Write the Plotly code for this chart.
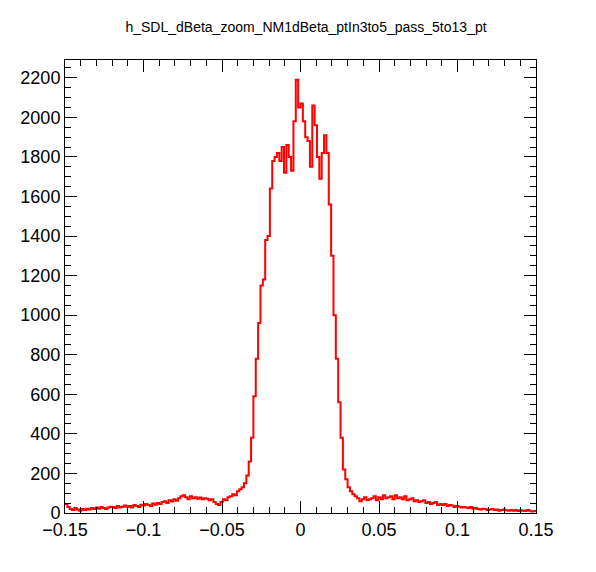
import plotly.graph_objects as go

title = 'h_SDL_dBeta_zoom_NM1dBeta_ptIn3to5_pass_5to13_pt'
xmin, xmax = -0.15, 0.15
counts = [45,30,20,15,25,18,12,20,15,22,
          18,25,20,28,22,30,25,20,28,32,
          30,25,35,28,32,38,30,35,28,40,
          35,30,42,38,45,40,35,48,42,50,
          45,55,60,50,65,58,70,62,75,85,
          90,80,70,85,75,80,72,78,70,75,
          72,65,70,55,45,40,55,
          70,65,80,85,95,90,110,
          120,130,150,190,260,380,
          590,780,960,1150,1180,1380,1400,1640,1780,
          1800,1820,1780,1850,1720,1860,1800,1730,1980,2190,
          2050,2070,1980,1900,1880,1750,2060,1960,1800,1690,1820,1910,1820,
          1560,1300,1000,780,560,380,220,170,130,110,95,85,75,60,70,
          80,65,70,75,85,65,80,70,90,75,80,85,70,
          90,75,80,70,85,65,70,75,60,65,
          55,60,65,50,55,45,50,55,40,45,
          40,45,35,40,38,30,35,32,28,30,
          28,25,30,22,25,20,18,22,20,15,
          18,20,15,18,12,15,18,14,12,15,
          12,15,10,14,12,10,15,12,8,10]

n = len(counts)
w = (xmax - xmin) / n
edges = [xmin + i * w for i in range(n + 1)]

fig = go.Figure()
fig.add_trace(go.Scatter(x=edges, y=counts + [counts[-1]], mode='lines',
                         line=dict(color='red', width=2, shape='hv'),
                         showlegend=False))

ax = dict(showline=True, linecolor='black', linewidth=1, mirror='ticks',
          ticks='inside', ticklen=12, tickcolor='black', showgrid=False,
          zeroline=False, tickfont=dict(size=18, color='black'),
          minor=dict(ticks='inside', ticklen=6, tickcolor='black'))
fig.update_layout(
    width=596, height=572, plot_bgcolor='white', paper_bgcolor='white',
    font=dict(family='Liberation Sans, Arial', color='black'),
    title=dict(text=title, x=0.5, y=0.975, xanchor='center', font=dict(size=14)),
    margin=dict(l=52, r=68, t=52, b=67),
    xaxis=dict(ax, range=[xmin, xmax], dtick=0.05, minor=dict(ax['minor'], nticks=5)),
    yaxis=dict(ax, range=[0, 2290], dtick=200, minor=dict(ax['minor'], nticks=4)),
)
fig.write_html('out.html')
